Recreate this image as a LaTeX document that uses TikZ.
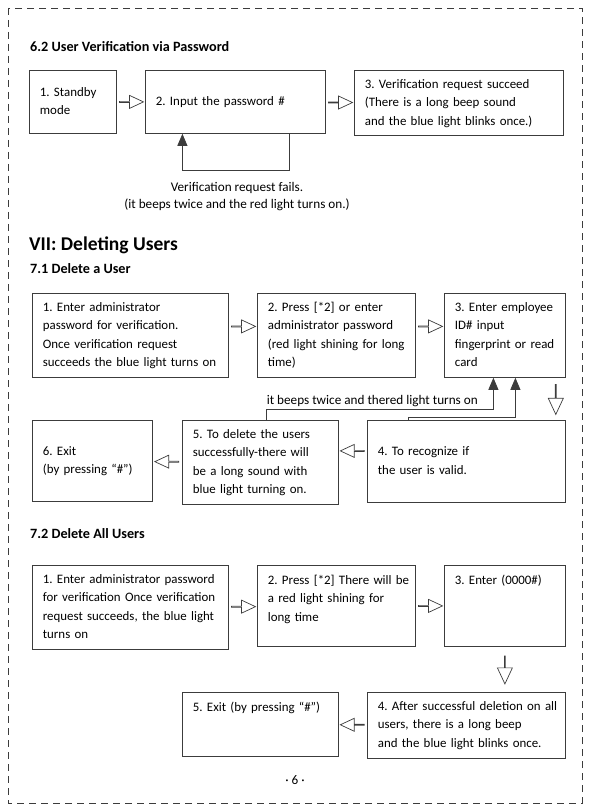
\documentclass[tikz,border=0pt]{standalone}
\usepackage{fontspec}
\setmainfont{Carlito}
\usetikzlibrary{shapes.arrows, arrows.meta, calc}
\definecolor{monGris}{RGB}{60,60,60}
\newcommand{\lignes}[1]{\begin{tabular}[t]{@{}l@{}}#1\end{tabular}}

\begin{document}
\begin{tikzpicture}[x=1pt, y=-1pt,
        boite/.style={draw=monGris, line width=0.8pt, rectangle, anchor=north west,
            inner xsep=10.5pt, inner ysep=5pt, align=left,
            font=\fontsize{12.9}{18.5}\selectfont\frenchspacing},
        fleche/.style={draw=monGris, line width=0.7pt, single arrow,
            minimum height=24pt, minimum width=13pt, single arrow head extend=4pt,
            single arrow tip angle=50, inner sep=0pt, fill=white},
        descente/.style={fleche, shape border rotate=270, minimum height=30pt,
            minimum width=15pt, single arrow head extend=5pt},
        retour/.style={draw=monGris, line width=0.8pt, -{Triangle[width=10pt,length=12pt]}},
        titre/.style={anchor=west, inner sep=0pt, font=\bfseries\fontsize{14.2}{16}\selectfont},
        texte/.style={font=\fontsize{13.2}{17}\selectfont\frenchspacing}]
        % Cadre de la page
        \useasboundingbox (0,0) rectangle (589,810);
        \draw[monGris, line width=0.8pt, dash pattern=on 7pt off 5pt] (8,8) rectangle (582,803);

        % 6.2 Verification par mot de passe
        \node[titre] (t62) at (30,47) {6.2 User Verification via Password};
        \node[boite, text width=66, minimum height=63] (a1) at (29,70) {\lignes{1. Standby\\mode}};
        \node[boite, text width=159, minimum height=63] (a2) at (145,70) {\lignes{2. Input the password \#}};
        \node[boite, text width=188, minimum height=63] (a3) at (354,70)
            {\lignes{3. Verification request succeed\\(There is a long beep sound\\and the blue light blinks once.)}};
        \node[fleche] (f1) at ($(a1.east)!0.5!(a2.west)$) {};
        \node[fleche] (f2) at ($(a2.east)!0.5!(a3.west)$) {};
        \draw[retour] ([xshift=54pt]a2.south) -- ++(0,37) -| ([xshift=-53pt]a2.south);
        \node[texte, align=center] (echec) at (237,196.5)
            {Verification request fails.\\(it beeps twice and the red light turns on.)};

        % VII Suppression
        \node[titre, font=\bfseries\fontsize{19.5}{22}\selectfont] (t7) at (29,245) {VII: Deleting Users};
        \node[titre] (t71) at (30,269) {7.1 Delete a User};
        \node[boite, text width=175, minimum height=80] (b1) at (32,293)
            {\lignes{1. Enter administrator\\password for verification.\\Once verification request\\succeeds the blue light turns on}};
        \node[boite, text width=137, minimum height=80] (b2) at (257,293)
            {\lignes{2. Press [*2] or enter\\administrator password\\(red light shining for long\\time)}};
        \node[boite, text width=100, minimum height=80] (b3) at (444,293)
            {\lignes{3. Enter employee\\ID\# input\\fingerprint or read\\card}};
        \node[boite, text width=177, minimum height=82] (b4) at (367,420)
            {\lignes{4. To recognize if\\the user is valid.}};
        \node[boite, text width=135, minimum height=82] (b5) at (182,420)
            {\lignes{5. To delete the users\\successfully-there will\\be a long sound with\\blue light turning on.}};
        \node[boite, text width=99, minimum height=81] (b6) at (32,420)
            {\lignes{6. Exit\\(by pressing “\#”)}};
        \node[fleche, yshift=9pt] (g1) at ($(b1.east)!0.5!(b2.west)$) {};
        \node[fleche, yshift=9pt] (g2) at ($(b2.east)!0.5!(b3.west)$) {};
        \node[descente, xshift=-10pt] (g3) at ($(b3.south east)!0.5!(b4.north east)$) {};
        \node[fleche, shape border rotate=180, yshift=11pt] (g4) at ($(b4.west)!0.5!(b5.east)$) {};
        \node[fleche, shape border rotate=180] (g5) at ($(b5.west)!0.5!(b6.east)$) {};
        % Retours vers l'etape 3
        \draw[retour] ([xshift=6pt]b5.north) -- ++(0,-11)
            node[texte, anchor=south west, inner xsep=0pt, inner ysep=1.5pt] (bip) {it beeps twice and thered light turns on}
            -| ([xshift=-11.5pt]b3.south);
        \draw[retour] ([xshift=-58pt]b4.north) -- ++(0,-3) -| ([xshift=10.5pt]b3.south);

        % 7.2 Supprimer tous les utilisateurs
        \node[titre] (t72) at (30,534) {7.2 Delete All Users};
        \node[boite, text width=175, minimum height=81] (c1) at (32,565)
            {\lignes{1. Enter administrator password\\for verification Once verification\\request succeeds, the blue light\\turns on}};
        \node[boite, text width=137, minimum height=81] (c2) at (257,565)
            {\parbox[t][69pt][t]{\linewidth}{\lignes{2. Press [*2] There will be\\a red light shining for\\long time}}};
        \node[boite, text width=100, minimum height=81] (c3) at (444,565)
            {\parbox[t][69pt][t]{\linewidth}{\lignes{3. Enter (0000\#)}}};
        \node[boite, text width=177, minimum height=64] (c4) at (367,692)
            {\lignes{4. After successful deletion on all\\users, there is a long beep\\and the blue light blinks once.}};
        \node[boite, text width=135, minimum height=64] (c5) at (182,692)
            {\parbox[t][52pt][t]{\linewidth}{\lignes{5. Exit (by pressing “\#”)}}};
        \node[fleche] (h1) at ($(c1.east)!0.5!(c2.west)$) {};
        \node[fleche] (h2) at ($(c2.east)!0.5!(c3.west)$) {};
        \node[descente, minimum height=28pt] (h3) at ($(c3.south)!0.5!(c4.north -| c3.south)$) {};
        \node[fleche, shape border rotate=180] (h4) at ($(c4.west)!0.5!(c5.east)$) {};

        % Numero de page
        \node[texte] (page) at (295,780) {· 6 ·};
    \end{tikzpicture}
\end{document}
